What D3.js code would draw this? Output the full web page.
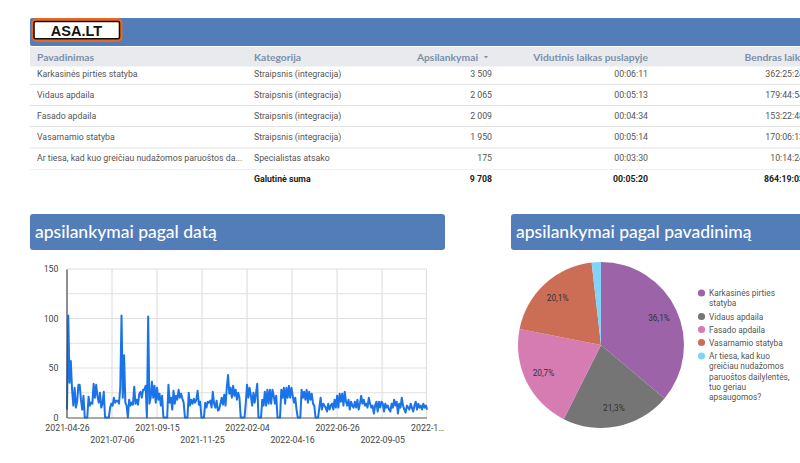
<!DOCTYPE html>
<html><head><meta charset="utf-8">
<script src="https://cdn.jsdelivr.net/npm/d3@7"></script>
<style>body{margin:0;background:#fff}svg{display:block}text{font-family:Roboto,sans-serif}</style>
</head><body><svg id="c" width="800" height="463"></svg>
<script>
const names=["Karkasinės pirties statyba","Vidaus apdaila","Fasado apdaila","Vasarnamio statyba","Ar tiesa, kad kuo greičiau nudažomos paruoštos da..."];
const categories=["Straipsnis (integracija)","Straipsnis (integracija)","Straipsnis (integracija)","Straipsnis (integracija)","Specialistas atsako"];
const visits=[3509,2065,2009,1950,175];
const visitLabels=["3 509","2 065","2 009","1 950","175"];
const avgTime=["00:06:11","00:05:13","00:04:34","00:05:14","00:03:30"];
const totalTime=["362:25:24","179:44:54","153:22:48","170:06:13","10:14:24"];
const totals=["Galutinė suma","9 708","00:05:20","864:19:03"];
const headers=["Pavadinimas","Kategorija","Apsilankymai","Vidutinis laikas puslapyje","Bendras laikas"];
const pieLegend=[["Karkasinės pirties","statyba"],["Vidaus apdaila"],["Fasado apdaila"],["Vasarnamio statyba"],["Ar tiesa, kad kuo","greičiau nudažomos","paruoštos dailylentės,","tuo geriau","apsaugomos?"]];
const pieColors=["#9c63a8","#757575","#d77bb3","#cb6e55","#7fd4f8"];
const pieLabels=["36,1%","21,3%","20,7%","20,1%",""];
const dateTicks=["2021-04-26","2021-07-06","2021-09-15","2021-11-25","2022-02-04","2022-04-16","2022-06-26","2022-09-05","2022-11-15"];
const tickLabels=["2021-04-26","2021-07-06","2021-09-15","2021-11-25","2022-02-04","2022-04-16","2022-06-26","2022-09-05","2022-1…"];
const yTicks=[0,25,50,75,100,125,150];
const seriesStart="2021-04-26";
const stepDays=2;
const dailyVisits=[
8,103,35,57,28,12,30,10,16,33,33,18,8,22,0,0,0,21,12,15,14,34,20,33,22,15,25,10,14,26,
0,0,0,0,10,14,12,20,15,17,17,14,30,103,20,63,15,12,0,18,12,15,13,31,14,18,13,24,26,20,
28,28,32,0,102,14,20,36,20,32,15,30,18,24,12,22,0,0,0,0,33,15,20,8,27,14,22,18,28,20,
24,19,15,0,0,0,25,12,18,14,19,15,18,27,13,16,0,0,0,15,10,16,15,17,10,26,14,10,17,7,
8,14,20,13,23,12,30,43,24,30,20,32,22,28,18,25,20,0,0,0,0,15,33,20,30,22,12,25,15,24,
34,0,0,0,18,12,26,12,28,14,28,14,28,22,14,22,0,0,0,28,20,30,14,30,20,32,20,30,22,15,
20,8,0,0,0,28,20,26,18,28,15,26,18,24,14,12,0,0,0,10,20,8,14,12,10,6,14,8,12,14,
8,18,10,22,10,24,16,24,12,26,16,12,18,8,16,12,10,16,10,18,8,14,22,14,18,12,14,10,20,14,
10,12,4,12,16,6,16,10,16,14,6,14,10,12,8,6,14,10,18,12,16,4,14,10,20,12,8,5,12,10,
8,14,10,6,12,16,8,14,10,12,8,14,10,12,8
];
const titles=["apsilankymai pagal datą","apsilankymai pagal pavadinimą"];

const svg=d3.select("#c");
const blue="#537db8";
// banner
svg.append("rect").attr("x",30).attr("y",18).attr("width",790).attr("height",28).attr("rx",2).attr("fill",blue);
svg.append("rect").attr("x",33).attr("y",19.5).attr("width",88).attr("height",21).attr("rx",3.5).attr("fill","#e8691c").attr("stroke","#e8691c").attr("stroke-width",3);
svg.append("rect").attr("x",34).attr("y",21.5).attr("width",85.5).attr("height",17.2).attr("rx",1.5).attr("fill","#fff").attr("stroke","#111").attr("stroke-width",1.6);
svg.append("text").attr("x",76.5).attr("y",35.5).attr("text-anchor","middle").style("font-family","'Liberation Sans'").style("font-weight",700).style("font-size","14.5px").attr("fill","#111").text("ASA.LT");
// table
svg.append("rect").attr("x",30).attr("y",47).attr("width",770).attr("height",19.5).attr("fill","#e8eaed");
const colX=[37,254,478,648,810], colA=["start","start","end","end","end"];
svg.selectAll("text.h").data(headers).join("text").attr("class","h").attr("x",(d,i)=>colX[i]).attr("y",61).attr("text-anchor",(d,i)=>colA[i])
 .style("font-family","Lato").style("font-weight",700).style("font-size","10.3px").attr("fill","#7d8fa6").text(d=>d);
svg.append("path").attr("d","M484 56l4 0-2 2.5z").attr("fill","#7d8fa6");
const rowY=[76.9,97.9,119,139.9,161];
const sepY=[84.5,105.5,126.5,148,169.5];
svg.selectAll("line.s").data(sepY).join("line").attr("class","s").attr("x1",30).attr("x2",800).attr("y1",d=>d).attr("y2",d=>d).attr("stroke",(d,i)=>i==4?"#efefef":"#e2e2e2").attr("stroke-width",1);
const cols=[[names,37,"start"],[categories,254,"start"],[visitLabels,492,"end"],[avgTime,648,"end"],[totalTime,804,"end"]];
cols.forEach(([arr,x,a])=>svg.append("g").selectAll("text").data(arr).join("text").attr("x",x).attr("y",(d,i)=>rowY[i]).attr("text-anchor",a).style("font-size","8.75px").attr("fill","#555").text(d=>d));
[[254,"start"],[492,"end"],[648,"end"],[804,"end"]].forEach(([x,a],i)=>svg.append("text").attr("x",x).attr("y",182.3).attr("text-anchor",a).style("font-size","8.75px").style("font-weight",700).attr("fill","#222").text(totals[i]));
// title boxes
[[30,415,35],[511,300,516]].forEach(([x,w,tx],i)=>{
 svg.append("rect").attr("x",x).attr("y",214).attr("width",w).attr("height",36).attr("rx",3).attr("fill",blue);
 svg.append("text").attr("x",tx).attr("y",237.5).style("font-family","Lato").style("font-size","17.5px").style("font-weight",500).attr("fill","#fff").text(titles[i]);
});
// line chart
const parse=d3.utcParse("%Y-%m-%d");
const t0=parse(seriesStart);
const dates=dailyVisits.map((v,i)=>d3.utcDay.offset(t0,i*stepDays));
const xS=d3.scaleUtc().domain([t0,d3.utcDay.offset(t0,567)]).range([67,426.5]);
const yS=d3.scaleLinear().domain([0,150]).range([417.5,269]);
const g=svg.append("g");
g.append("g").selectAll("line").data(yTicks.slice(1)).join("line").attr("x1",67).attr("x2",426.5).attr("y1",d=>yS(d)).attr("y2",d=>yS(d)).attr("stroke","#e0e0e0").attr("stroke-width",1.2);
g.append("g").selectAll("line").data(dateTicks.slice(1,8)).join("line").attr("x1",d=>xS(parse(d))).attr("x2",d=>xS(parse(d))).attr("y1",269).attr("y2",417.5).attr("stroke","#e0e0e0").attr("stroke-width",1.2);
g.append("line").attr("x1",426.5).attr("x2",426.5).attr("y1",269).attr("y2",417.5).attr("stroke","#e0e0e0").attr("stroke-width",1.2);
const line=d3.line().x((d,i)=>xS(dates[i])).y(d=>yS(d));
g.append("path").datum(dailyVisits).attr("d",line).attr("fill","none").attr("stroke","#1a73e8").attr("stroke-width",2).attr("stroke-linejoin","round");
const ax=g.append("g").attr("transform","translate(0,417.5)").call(d3.axisBottom(xS).tickValues(dateTicks.map(parse)).tickSize(0).tickFormat((d,i)=>tickLabels[i]));
ax.select(".domain").attr("stroke","#555").attr("stroke-width",1.2);
ax.selectAll("text").style("font-family","Roboto").style("font-size","8.8px").attr("fill","#444").attr("dy",0).attr("y",(d,i)=>i%2?25:13);
const ay=g.append("g").attr("transform","translate(66.5,0)").call(d3.axisLeft(yS).tickValues([0,50,100,150]).tickSize(0).tickPadding(8).tickFormat(d=>d));
ay.select(".domain").attr("stroke","#444").attr("stroke-width",1.2);
ay.selectAll("text").style("font-family","Roboto").style("font-size","8.8px").attr("fill","#444");
// pie
const pie=d3.pie().sort(null).value(d=>d)(visits);
const arc=d3.arc().innerRadius(0).outerRadius(83);
const lab=d3.arc().innerRadius(64).outerRadius(64);
const pg=svg.append("g").attr("transform","translate(601,345)");
pg.selectAll("path").data(pie).join("path").attr("d",arc).attr("fill",(d,i)=>pieColors[i]);
pg.selectAll("text").data(pie).join("text").attr("transform",d=>`translate(${lab.centroid(d)})`).attr("text-anchor","middle").attr("dy","0.35em").style("font-size","8.3px").attr("fill","#333").text((d,i)=>pieLabels[i]);
// legend
const legY=[293,316.5,329.5,342.5,356];
pieLegend.forEach((ls,i)=>{
 svg.append("circle").attr("cx",701.5).attr("cy",legY[i]).attr("r",3.6).attr("fill",pieColors[i]);
 ls.forEach((s,j)=>svg.append("text").attr("x",709).attr("y",legY[i]+3+j*10.3).style("font-size","8.3px").attr("fill","#555").text(s));
});
</script></body></html>
